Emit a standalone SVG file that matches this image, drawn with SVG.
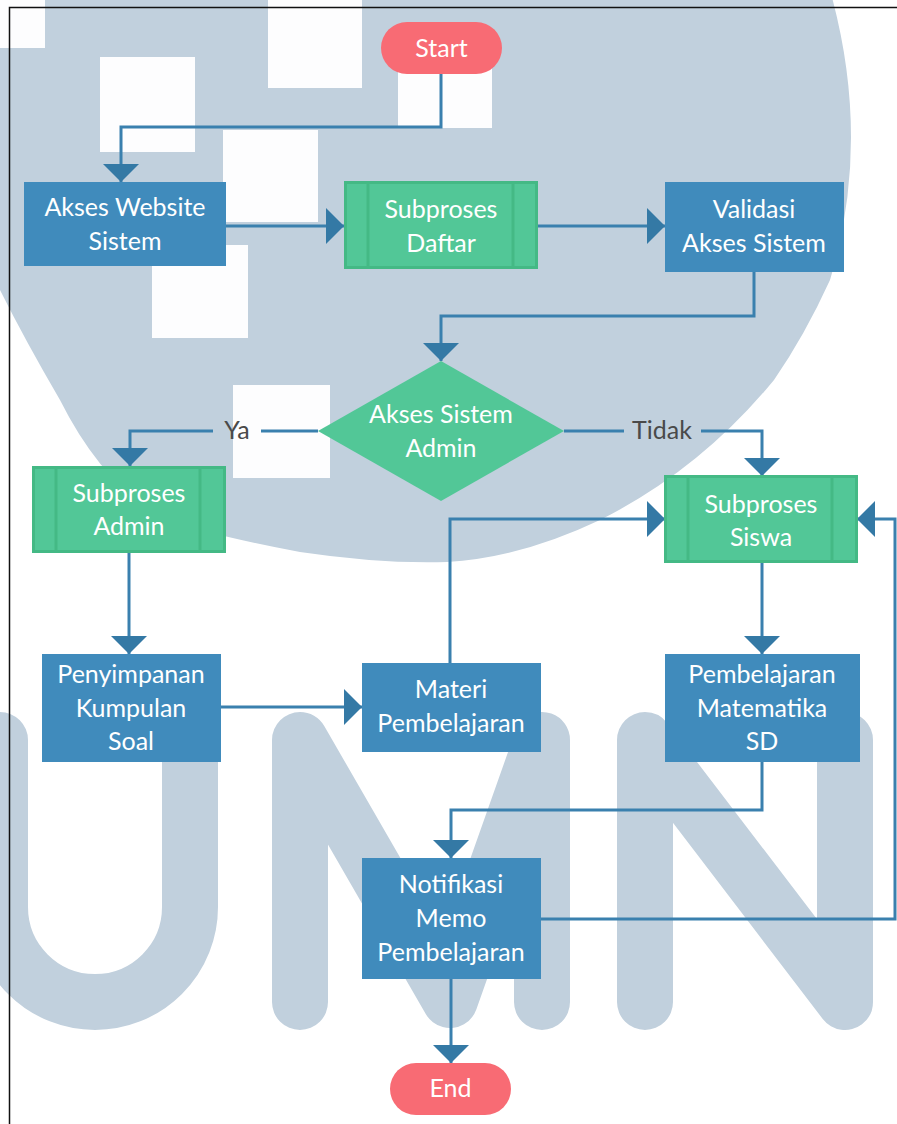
<svg xmlns="http://www.w3.org/2000/svg" width="897" height="1124" viewBox="0 0 897 1124">
<style>
.wm{fill:#c1d0dd}
.wl{fill:none;stroke:#c1d0dd;stroke-width:56;stroke-linecap:round;stroke-linejoin:round}
.wsq{fill:#fdfdfe}
.proc{fill:#408bbc}
.sub{fill:#52c797;stroke:#44b985;stroke-width:3}
.subl{stroke:#44b985;stroke-width:3}
.term{fill:#f86b74}
.t{font-family:Lato,"Open Sans","Liberation Sans",sans-serif;font-size:25px;fill:#ffffff;text-anchor:middle}
.lbl{font-family:Lato,"Open Sans","Liberation Sans",sans-serif;font-size:25px;fill:#4a4a4a;text-anchor:middle}
.c{fill:none;stroke:#3a80ae;stroke-width:3}
</style>
<defs>
<marker id="ah" viewBox="0 0 18 36" refX="18" refY="18" markerWidth="18" markerHeight="36" markerUnits="userSpaceOnUse" orient="auto">
<path d="M0,0 L18,18 L0,36 Z" fill="#3479a5"/>
</marker>
</defs>
<rect x="0" y="0" width="897" height="1124" fill="#ffffff"/>
<g id="watermark">
<path class="wm" d="M-10,-10 L830,-10 Q872,140 830,280 Q805,335 774,380 Q700,470 600,520 Q520,558 447,562 Q380,564 300,552 Q210,535 160,518 Q100,480 60,400 Q25,340 0,290 L-10,290 Z"/>
<rect class="wsq" x="0" y="0" width="45" height="48"/>
<rect class="wsq" x="268" y="0" width="94" height="88"/>
<rect class="wsq" x="100" y="57" width="95" height="95"/>
<rect class="wsq" x="398" y="33" width="94" height="95"/>
<rect class="wsq" x="223" y="130" width="95" height="92"/>
<rect class="wsq" x="152" y="245" width="96" height="93"/>
<rect class="wsq" x="233" y="385" width="97" height="93"/>
<path class="wl" d="M0,740 V907 A95,95 0 0 0 190,907 V740"/>
<path class="wl" d="M300,1002 V740 L450,1000 L542,740 V1002"/>
<path class="wl" d="M645,1002 V740 L845,1002 V740"/>
</g>
<rect x="9.5" y="7.5" width="900" height="1130" fill="none" stroke="#111" stroke-width="1.5"/>
<g id="connectors">
<path class="c" d="M441,74 V127 H121 V182" marker-end="url(#ah)"/>
<path class="c" d="M226,226 H344" marker-end="url(#ah)"/>
<path class="c" d="M538,226 H665" marker-end="url(#ah)"/>
<path class="c" d="M754,271 V316 H441 V361" marker-end="url(#ah)"/>
<path class="c" d="M318,431 H261"/>
<path class="c" d="M213,431 H130 V466" marker-end="url(#ah)"/>
<path class="c" d="M564,431 H624"/>
<path class="c" d="M701,431 H762 V476" marker-end="url(#ah)"/>
<path class="c" d="M129,552 V654" marker-end="url(#ah)"/>
<path class="c" d="M221,707 H362" marker-end="url(#ah)"/>
<path class="c" d="M450,663 V519 H665" marker-end="url(#ah)"/>
<path class="c" d="M762,562 V654" marker-end="url(#ah)"/>
<path class="c" d="M762,762 V810 H451 V858" marker-end="url(#ah)"/>
<path class="c" d="M541,919 H895 V519 H857" marker-end="url(#ah)"/>
<path class="c" d="M451,979 V1063" marker-end="url(#ah)"/>
<text class="lbl" x="237" y="439">Ya</text>
<text class="lbl" x="662" y="439">Tidak</text>
</g>
<g id="start">
<rect class="term" x="381" y="22" width="121" height="52" rx="26"/>
<text class="t" x="441.5" y="57">Start</text>
</g>
<g id="akses-website">
<rect class="proc" x="24" y="182" width="202" height="84"/>
<text class="t" x="125" y="216">Akses Website</text>
<text class="t" x="125" y="250">Sistem</text>
</g>
<g id="subproses-daftar">
<rect class="sub" x="345.5" y="182.5" width="191" height="85"/>
<line class="subl" x1="368" y1="183" x2="368" y2="267"/>
<line class="subl" x1="513" y1="183" x2="513" y2="267"/>
<text class="t" x="441" y="218">Subproses</text>
<text class="t" x="441" y="252">Daftar</text>
</g>
<g id="validasi">
<rect class="proc" x="665" y="182" width="179" height="90"/>
<text class="t" x="754" y="218">Validasi</text>
<text class="t" x="754" y="252">Akses Sistem</text>
</g>
<g id="akses-admin">
<polygon points="441,361 564,431 441,501 318,431" fill="#52c797"/>
<text class="t" x="441" y="423">Akses Sistem</text>
<text class="t" x="441" y="457">Admin</text>
</g>
<g id="subproses-admin">
<rect class="sub" x="33.5" y="467.5" width="191" height="84"/>
<line class="subl" x1="56" y1="468" x2="56" y2="551"/>
<line class="subl" x1="200" y1="468" x2="200" y2="551"/>
<text class="t" x="129" y="502">Subproses</text>
<text class="t" x="129" y="535">Admin</text>
</g>
<g id="subproses-siswa">
<rect class="sub" x="665.5" y="476.5" width="191" height="85"/>
<line class="subl" x1="688" y1="477" x2="688" y2="561"/>
<line class="subl" x1="832" y1="477" x2="832" y2="561"/>
<text class="t" x="761" y="513">Subproses</text>
<text class="t" x="761" y="546">Siswa</text>
</g>
<g id="penyimpanan">
<rect class="proc" x="42" y="654" width="179" height="108"/>
<text class="t" x="131" y="683">Penyimpanan</text>
<text class="t" x="131" y="717">Kumpulan</text>
<text class="t" x="131" y="750">Soal</text>
</g>
<g id="materi">
<rect class="proc" x="362" y="663" width="179" height="89"/>
<text class="t" x="451" y="698">Materi</text>
<text class="t" x="451" y="732">Pembelajaran</text>
</g>
<g id="pembelajaran-matematika">
<rect class="proc" x="665" y="654" width="195" height="108"/>
<text class="t" x="762" y="683">Pembelajaran</text>
<text class="t" x="762" y="717">Matematika</text>
<text class="t" x="762" y="750">SD</text>
</g>
<g id="notifikasi">
<rect class="proc" x="362" y="858" width="179" height="121"/>
<text class="t" x="451" y="893">Notifikasi</text>
<text class="t" x="451" y="927">Memo</text>
<text class="t" x="451" y="961">Pembelajaran</text>
</g>
<g id="end">
<rect class="term" x="390" y="1063" width="121" height="52" rx="26"/>
<text class="t" x="450.5" y="1097">End</text>
</g>
</svg>
